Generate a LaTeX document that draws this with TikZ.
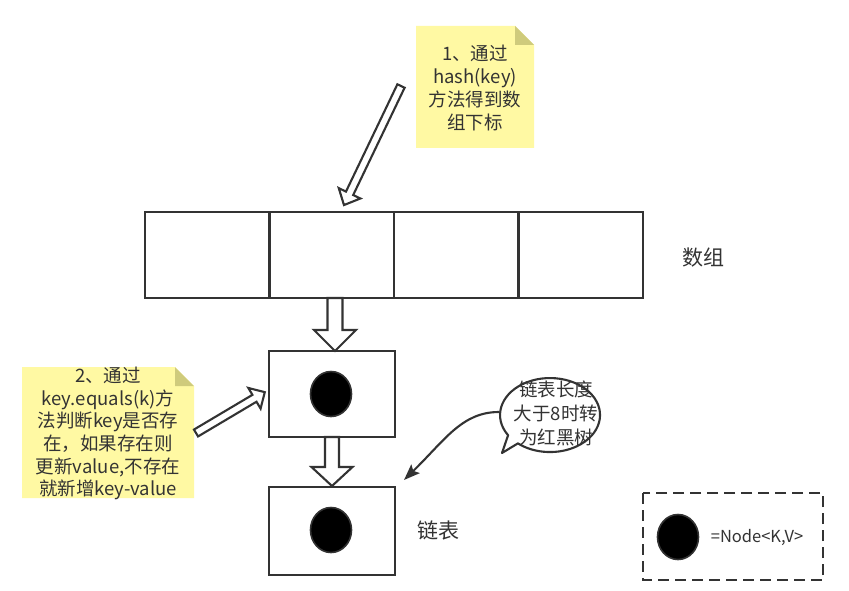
\documentclass[tikz,border=0pt]{standalone}
\usepackage{fontspec}
\setmainfont{Noto Sans CJK SC}
\usetikzlibrary{arrows.meta,shapes.geometric}
\definecolor{ink}{HTML}{333333}
\definecolor{noteyellow}{HTML}{FFF9A3}
\definecolor{notefold}{HTML}{CFCB7C}
\tikzset{
  cell/.style={draw=ink, line width=2.1pt, minimum width=124.5pt, minimum height=86pt, inner sep=0pt},
  listbox/.style={draw=ink, line width=2.1pt, minimum width=126pt, minimum height=86pt, inner sep=0pt},
  entry/.style={ellipse, draw=ink, line width=1.6pt, fill=black, minimum width=41pt, minimum height=45pt, inner sep=0pt},
  hollow/.style={draw=ink, line width=2.1pt, fill=white, line join=miter},
  notebody/.style={fill=noteyellow, draw=none},
  notefoldst/.style={fill=notefold, draw=none},
  notetext/.style={text=ink, align=center, font=\fontsize{18.5}{23}\selectfont, inner sep=0pt},
  label/.style={text=ink, font=\fontsize{21}{24}\selectfont, inner sep=0pt},
}
\begin{document}
\begin{tikzpicture}[x=1pt,y=-1pt]
\useasboundingbox (0,0) rectangle (849,591);
\fill[white] (0,0) rectangle (849,591);

% ---- note 1
\fill[notebody] (416,26) -- (515,26) -- (534,45) -- (534,148) -- (416,148) -- cycle;
\fill[notefoldst] (515,26) -- (515,45) -- (534,45) -- cycle;
\node[notetext] (n1) at (475,88) {1、通过\\hash(key)\\方法得到数\\组下标};

% ---- array
\node[cell] (c1) at (207.25,255) {};
\node[cell] (c2) at (331.75,255) {};
\node[cell] (c3) at (456.25,255) {};
\node[cell] (c4) at (580.75,255) {};
\node[label] (arr) at (703,258) {数组};

% ---- hollow arrow 1 (note -> array)
\begin{scope}[shift={(401,86)}, rotate=244.4]
  \draw[hollow] (0,4) -- (119,4) -- (119,12) -- (132,0) -- (119,-12) -- (119,-4) -- (0,-4) -- cycle;
\end{scope}

% ---- list boxes
\node[listbox] (b1) at (332,394) {};
\node[entry] (e1) at (331,394) {};
\node[listbox, minimum height=88pt] (b2) at (332,531) {};
\node[entry] (e2) at (331,530) {};
\node[label] (lst) at (438,530) {链表};

% ---- vertical hollow arrows
\draw[hollow] (327.5,298) -- (327.5,330) -- (314,330) -- (335,351) -- (356,330) -- (342.5,330) -- (342.5,298) -- cycle;
\draw[hollow] (325,437) -- (325,467) -- (311.5,467) -- (332,486) -- (352.5,467) -- (339,467) -- (339,437) -- cycle;

% ---- note 2
\fill[notebody] (22,367) -- (175,367) -- (194,386) -- (194,498) -- (22,498) -- cycle;
\fill[notefoldst] (175,367) -- (175,386) -- (194,386) -- cycle;
\node[notetext, font=\fontsize{18.5}{22.7}\selectfont] (n2) at (108,433.5) {2、通过\\key.equals(k)方\\法判断key是否存\\在，如果存在则\\更新value,不存在\\就新增key-value};

% ---- hollow arrow 3 (note 2 -> box 1)
\begin{scope}[shift={(196,433)}, rotate=30.7]
  \draw[hollow] (0,4) -- (68,4) -- (68,12) -- (80,0) -- (68,-12) -- (68,-4) -- (0,-4) -- cycle;
\end{scope}

% ---- speech bubble
\draw[draw=ink, line width=2.1pt, fill=white, line join=round]
  (508.1,435.2) arc[start angle=147, end angle=490, x radius=50, y radius=37] -- (502,453) -- cycle;
\node[notetext, font=\fontsize{18.5}{24}\selectfont] (bub) at (556,413) {链表长度\\大于8时转\\为红黑树};
\coordinate (bw) at (499,412);
\coordinate (ctip) at (404,480);
\draw[ink, line width=2.1pt, -{Stealth[length=16pt,width=12pt,inset=3pt]}]
  (bw) .. controls (462,412) and (445,440) .. (ctip);

% ---- legend
\draw[ink, line width=2.4pt, dash pattern=on 11pt off 6pt] (643,493) rectangle (823,580);
\node[entry] (le) at (678,537) {};
\node[text=ink, font=\fontsize{16.5}{18}\selectfont, inner sep=0pt] (lt) at (757,537) {=Node<K,V>};
\end{tikzpicture}
\end{document}
